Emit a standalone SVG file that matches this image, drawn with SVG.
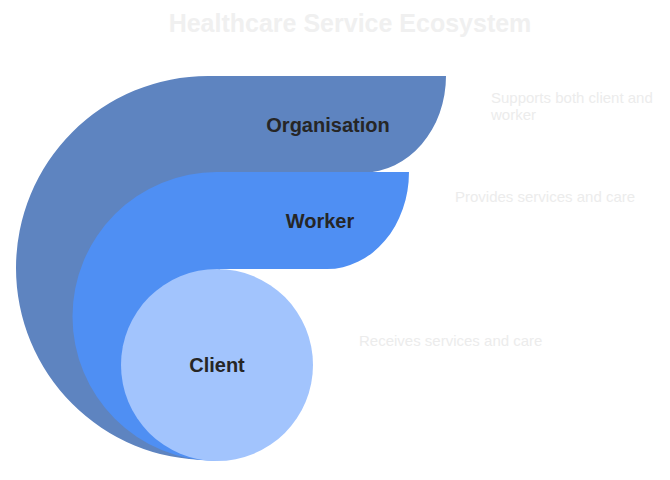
<svg xmlns="http://www.w3.org/2000/svg" width="670" height="480" viewBox="0 0 670 480">
<style>
.title{font-family:"Liberation Sans",Arial,sans-serif;font-weight:bold;font-size:25px;fill:#f0f0f0;text-anchor:middle}
.lbl{font-family:"Liberation Sans",Arial,sans-serif;font-weight:bold;font-size:20px;fill:#262626;text-anchor:middle}
.desc{font-family:"Liberation Sans",Arial,sans-serif;font-size:15px;fill:#ececec}
</style>
<rect width="670" height="480" fill="#ffffff"/>
<text class="title" x="350" y="32">Healthcare Service Ecosystem</text>
<g id="organisation">
<path d="M208,76 H446 A83,96.5 0 0 1 363,172.5 H220 V460 H208 A192,192 0 0 1 208,76 Z" fill="#5E84C0"/>
<text class="lbl" x="328" y="132">Organisation</text>
</g>
<g id="worker">
<path d="M217,172 H409 A82,97 0 0 1 327,269 H217 V461 A144.5,144.5 0 0 1 217,172 Z" fill="#4F8FF3"/>
<text class="lbl" x="320" y="228">Worker</text>
</g>
<g id="client">
<circle cx="217" cy="365" r="96" fill="#A2C4FD"/>
<text class="lbl" x="217" y="372">Client</text>
</g>
<g id="connectors"></g>
<g id="descriptions">
<text class="desc" x="491" y="103">Supports both client and</text>
<text class="desc" x="491" y="120">worker</text>
<text class="desc" x="455" y="202">Provides services and care</text>
<text class="desc" x="359" y="346">Receives services and care</text>
</g>
</svg>
